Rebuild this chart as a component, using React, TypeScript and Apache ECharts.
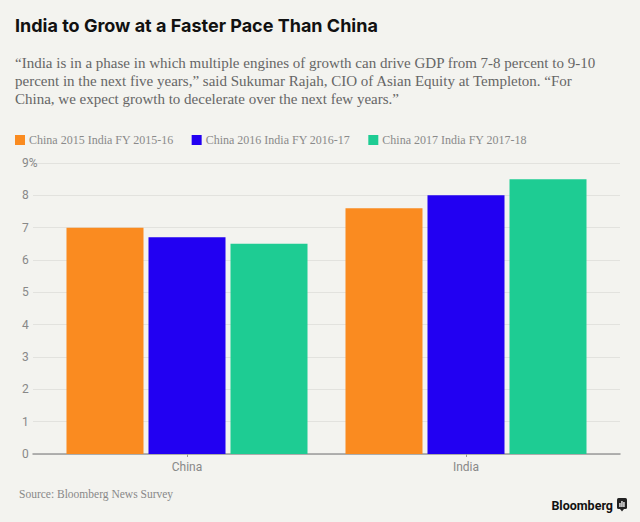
import React, { useEffect, useRef } from "react";
import * as echarts from "echarts";

const categories = ["China", "India"];
const seriesNames = [
  "China 2015 India FY 2015-16",
  "China 2016 India FY 2016-17",
  "China 2017 India FY 2017-18",
];
const values2015 = [7.0, 7.6];
const values2016 = [6.7, 8.0];
const values2017 = [6.5, 8.5];
const colors = ["#FA8B20", "#2200F2", "#1ECC93"];
const quoteLines = [
  "“India is in a phase in which multiple engines of growth can drive GDP from 7-8 percent to 9-10",
  "percent in the next five years,” said Sukumar Rajah, CIO of Asian Equity at Templeton. “For",
  "China, we expect growth to decelerate over the next few years.”",
];
const title = "India to Grow at a Faster Pace Than China";
const source = "Source: Bloomberg News Survey";

const SERIF = "'Liberation Serif', 'DejaVu Serif', serif";
const SANS = "Roboto, 'Liberation Sans', sans-serif";
const TITLE_FONT = "Inter, 'Open Sans', sans-serif";

export default function App() {
  const ref = useRef<HTMLDivElement>(null);
  useEffect(() => {
    document.body.style.margin = "0";
    if (!ref.current) return;
    const chart = echarts.init(ref.current, undefined, { renderer: "svg" });
    const allData = [values2015, values2016, values2017];
    const option: any = {
      animation: false,
      backgroundColor: "#F3F3EF",
      color: colors,
      legend: {
        left: 15,
        top: 134,
        itemWidth: 10,
        itemHeight: 10,
        itemGap: 18,
        icon: "rect",
        padding: 0,
        data: seriesNames,
        textStyle: { fontFamily: SERIF, fontSize: 12, color: "#8A8A8A", padding: [1, 0, 0, -1] },
      },
      grid: [
        { left: 33, right: 20, top: 163, bottom: 68 },
        { left: 47.5, right: 34.5, top: 163, bottom: 68 },
      ],
      xAxis: [
        {
          type: "category",
          gridIndex: 0,
          data: categories,
          axisLine: { show: true, lineStyle: { color: "#9A9A9A", width: 1.5 } },
          axisTick: { show: false },
          axisLabel: { show: false },
        },
        {
          type: "category",
          gridIndex: 1,
          data: categories,
          axisLine: { show: false },
          axisTick: { show: true, alignWithLabel: true, length: 3, lineStyle: { color: "#9A9A9A" } },
          axisLabel: { show: true, color: "#888", fontFamily: SANS, fontSize: 12, margin: 7 },
        },
      ],
      yAxis: [
        {
          type: "value",
          gridIndex: 0,
          min: 0,
          max: 9,
          interval: 1,
          axisLine: { show: false },
          axisTick: { show: false },
          splitLine: { lineStyle: { color: "#E2E2DE", width: 1 } },
          axisLabel: {
            align: "left",
            margin: 11,
            color: "#888",
            fontFamily: SANS,
            fontSize: 12,
            formatter: (v: number) => (v === 9 ? "9%" : String(v)),
          },
        },
        {
          type: "value",
          gridIndex: 1,
          min: 0,
          max: 9,
          interval: 1,
          show: false,
          splitLine: { show: false },
        },
      ],
      series: seriesNames.map((name, i) => ({
        name,
        type: "bar",
        xAxisIndex: 1,
        yAxisIndex: 1,
        data: allData[i],
        barWidth: 77,
        barGap: "6.5%",
        itemStyle: { color: colors[i] },
      })),
      graphic: [
        {
          type: "text",
          x: 15,
          y: 25,
          style: { text: title, font: `bold 18px ${TITLE_FONT}`, fill: "#111", verticalAlign: "middle" },
        },
        ...quoteLines.map((line, i) => ({
          type: "text",
          x: 15,
          y: 63 + i * 17.8,
          style: {
            text: line,
            font: `15px ${SERIF}`,
            fill: "#666",
            verticalAlign: "middle",
          },
        })),
        {
          type: "text",
          x: 19,
          y: 494,
          style: { text: source, font: `11.5px ${SERIF}`, fill: "#888", verticalAlign: "middle" },
        },
        {
          type: "text",
          x: 613,
          y: 505,
          style: {
            text: "Bloomberg",
            font: `bold 12.5px ${SANS}`,
            fill: "#111",
            align: "right",
            verticalAlign: "middle",
          },
        },
        {
          type: "rect",
          shape: { x: 617, y: 498, width: 10, height: 11, r: 1.5 },
          style: { fill: "#222" },
        },
        {
          type: "polygon",
          shape: { points: [[620, 509], [624, 509], [622, 511.5]] },
          style: { fill: "#222" },
        },
        { type: "rect", shape: { x: 619.3, y: 503, width: 1.3, height: 4 }, style: { fill: "#fff" } },
        { type: "rect", shape: { x: 621.3, y: 501, width: 1.3, height: 6 }, style: { fill: "#fff" } },
        { type: "rect", shape: { x: 623.3, y: 502, width: 1.3, height: 5 }, style: { fill: "#fff" } },
      ],
    };
    chart.setOption(option);
    return () => chart.dispose();
  }, []);
  return (
    <div
      ref={ref}
      style={{ position: "fixed", left: 0, top: 0, width: 640, height: 522 }}
    />
  );
}
